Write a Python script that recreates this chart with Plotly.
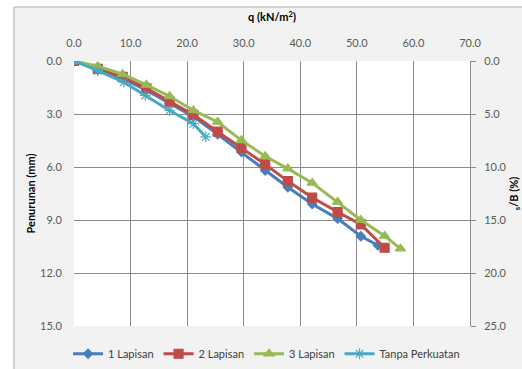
import plotly.graph_objects as go

# Load q (kN/m2) and settlement (mm)
q1 = [0, 4.2, 8.6, 12.8, 16.9, 21.1, 25.4, 29.6, 33.8, 37.8, 42.1, 46.6, 50.7, 53.7]
s1 = [0, 0.5, 1.0, 1.65, 2.4, 3.15, 4.15, 5.15, 6.2, 7.15, 8.1, 8.92, 9.92, 10.43]

q2 = [0, 4.2, 8.6, 12.8, 16.9, 21.1, 25.4, 29.6, 33.8, 37.8, 42.1, 46.6, 50.7, 54.9]
s2 = [0, 0.45, 0.9, 1.55, 2.3, 3.05, 4.0, 4.9, 5.85, 6.8, 7.73, 8.55, 9.25, 10.57]

q3 = [0, 4.2, 8.6, 12.8, 16.9, 21.1, 25.4, 29.6, 33.8, 37.8, 42.1, 46.6, 50.7, 54.9, 57.7]
s3 = [0, 0.3, 0.75, 1.35, 2.0, 2.8, 3.45, 4.49, 5.39, 6.09, 6.9, 7.98, 9.0, 9.9, 10.62]

q0 = [0, 4.2, 8.8, 12.6, 16.9, 21.1, 23.3]
s0 = [0, 0.55, 1.2, 1.95, 2.8, 3.55, 4.3]

B_mm = 60.0  # footing width -> s/B axis

names = ["1 Lapisan", "2 Lapisan", "3 Lapisan", "Tanpa Perkuatan"]
colors = ["#4A7EBB", "#BE4B48", "#98B954", "#46AAC5"]
symbols = ["diamond", "square", "triangle-up", "asterisk-open"]
msizes = [7, 9, 9, 9]

fig = go.Figure()
for q, s, n, c, sym, ms in zip([q1, q2, q3, q0], [s1, s2, s3, s0], names, colors, symbols, msizes):
    fig.add_trace(go.Scatter(
        x=q, y=s, name=n, mode="lines+markers",
        line=dict(color=c, width=3),
        marker=dict(symbol=sym, size=ms, color=c, line=dict(color=c, width=1.2)),
    ))

# invisible trace on secondary axis (s/B %)
fig.add_trace(go.Scatter(
    x=q1, y=[v / B_mm * 100 for v in s1], yaxis="y2", mode="lines",
    line=dict(color="rgba(0,0,0,0)"), showlegend=False, hoverinfo="skip",
))

grid = "#8c8c8c"
fam = "Lato, Open Sans, sans-serif"
tickfont = dict(family=fam, size=11, color="#595959")
titlefont = dict(family=fam, size=11, color="#000000")

W, H = 522, 369
L, R, T, Bm = 74, 52, 61, 43
pw, ph = W - L - R, H - T - Bm

def px_x(p):
    return (p - L) / pw

def px_y(p):
    return 1 - (p - T) / ph

fig.update_layout(
    width=W, height=H,
    margin=dict(l=L, r=R, t=T, b=Bm, autoexpand=False),
    paper_bgcolor="#f2f2f2",
    plot_bgcolor="#ffffff",
    xaxis=dict(
        side="top", range=[0, 70], dtick=10, tickformat=".1f",
        showgrid=True, gridcolor=grid, gridwidth=1, zeroline=False,
        showline=False, ticks="outside", ticklen=9, tickcolor="rgba(0,0,0,0)",
        tickfont=tickfont, automargin=False,
        title=dict(text="<b>q (kN/m<sup>2</sup>)</b>", font=titlefont, standoff=11),
    ),
    yaxis=dict(
        range=[15, 0], dtick=3, tickformat=".1f",
        showgrid=True, gridcolor=grid, gridwidth=1, zeroline=False,
        showline=False, ticks="outside", ticklen=9, tickcolor="rgba(0,0,0,0)",
        tickfont=tickfont, automargin=False,
        title=dict(text="<b>Penurunan (mm)</b>", font=titlefont, standoff=2),
    ),
    yaxis2=dict(
        overlaying="y", side="right", range=[25, 0], dtick=5, tickformat=".1f",
        showgrid=False, zeroline=False, showline=True, linecolor=grid,
        ticks="outside", ticklen=5, tickcolor=grid, tickfont=tickfont,
        ticklabelstandoff=6, automargin=False,
        title=dict(text="<b><sub>s</sub>/B (%)</b>", font=titlefont, standoff=13),
    ),
    legend=dict(
        orientation="h", x=-0.015, xanchor="left", y=-0.05, yanchor="top",
        font=dict(family=fam, size=11, color="#404040"),
        bgcolor="rgba(0,0,0,0)", itemwidth=30, tracegroupgap=0,
    ),
    shapes=[
        dict(type="rect", xref="paper", yref="paper", layer="above",
             x0=px_x(-20), x1=px_x(14), y0=px_y(400), y1=px_y(-20),
             fillcolor="#ffffff", line=dict(width=0)),
        dict(type="rect", xref="paper", yref="paper", layer="above",
             x0=px_x(-20), x1=px_x(560), y0=px_y(7), y1=px_y(-20),
             fillcolor="#ffffff", line=dict(width=0)),
        dict(type="line", xref="paper", yref="paper", layer="above",
             x0=px_x(14), x1=px_x(14), y0=px_y(7), y1=px_y(400),
             line=dict(color="#a6a6a6", width=1)),
        dict(type="line", xref="paper", yref="paper", layer="above",
             x0=px_x(14), x1=px_x(560), y0=px_y(7), y1=px_y(7),
             line=dict(color="#a6a6a6", width=1)),
    ],
    showlegend=True,
)

fig.write_html("out.html")
